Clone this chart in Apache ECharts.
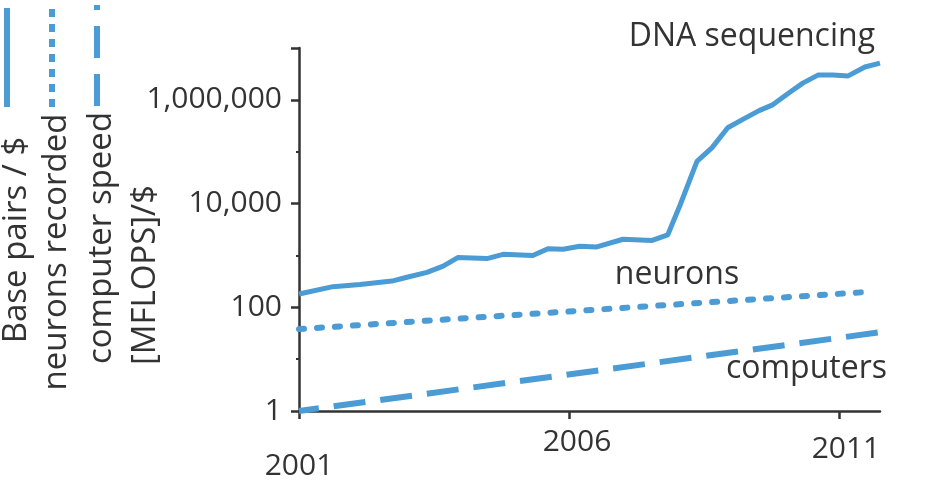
<!DOCTYPE html>
<html>
<head>
<meta charset="utf-8">
<script src="https://cdn.jsdelivr.net/npm/echarts@6/dist/echarts.min.js"></script>
<style>
  html, body { margin: 0; padding: 0; background: #fff; }
  #chart { width: 929px; height: 481px; }
</style>
</head>
<body>
<div id="chart"></div>
<script>
// ---- data ----
const dnaYears = [2001.0, 2001.63, 2002.13, 2002.72, 2003.0, 2003.37, 2003.67, 2003.94, 2004.48, 2004.78,
  2005.33, 2005.61, 2005.89, 2006.2, 2006.5, 2007.0, 2007.54, 2007.83, 2008.06, 2008.37,
  2008.65, 2008.94, 2009.22, 2009.52, 2009.76, 2010.09, 2010.33, 2010.61, 2010.89, 2011.17,
  2011.48, 2011.76];
const dnaValues = [180, 250, 275, 320, 380, 470, 620, 910, 870, 1050,
  1000, 1350, 1320, 1500, 1450, 2050, 1950, 2500, 9500, 65000,
  120000, 290000, 420000, 620000, 790000, 1400000, 2100000, 3000000, 3000000, 2900000,
  4300000, 5100000];
const neuronYears = [2001.0, 2011.44];
const neuronValues = [38, 195];
const computerYears = [2001.0, 2011.94];
const computerValues = [1, 35];

const xTickValues = [2001, 2006, 2011];
const xTickLabels = ["2001", "2006", "2011"];
const yTickValues = [1, 100, 10000, 1000000];
const yTickLabels = ["1", "100", "10,000", "1,000,000"];

const BLUE = "#4b9bd5";
const INK = "#333333";
const FONT = '"Open Sans", "Noto Sans", sans-serif';

const pairs = (xs, ys) => xs.map((x, i) => [x, ys[i]]);

// the year labels are staggered in the original: one label-only axis per year,
// a blank spacer token nudges a label to the right
const yearMargin = [40, 16, 23];
const yearSpacer = [0, 16, 14];

const baseX = {
  type: "value",
  min: 2001,
  max: 2011.76,
  position: "bottom",
  splitLine: { show: false },
};

const xAxes = xTickValues.map((v, i) => ({
  ...baseX,
  axisLine: { show: i === 0, lineStyle: { color: INK, width: 2.5 } },
  axisTick: { show: i === 0, customValues: xTickValues, length: 8, lineStyle: { color: INK, width: 2.5 } },
  axisLabel: {
    customValues: [v],
    margin: yearMargin[i],
    color: INK,
    fontSize: 30,
    lineHeight: 30,
    fontFamily: FONT,
    formatter: () => (yearSpacer[i] ? "{sp| }" : "") + "{y|" + xTickLabels[i] + "}",
    rich: {
      sp: { width: yearSpacer[i], fontSize: 30, lineHeight: 30 },
      y: { fontSize: 30, lineHeight: 30, color: INK, fontFamily: FONT },
    },
  },
}));

const chart = echarts.init(document.getElementById("chart"), null, { renderer: "canvas" });

chart.setOption({
  animation: false,
  grid: { left: 299, right: 49, top: 48, bottom: 69 },
  xAxis: xAxes,
  yAxis: [
    {
      type: "log",
      logBase: 10,
      min: 1,
      max: 1e7,
      splitLine: { show: false },
      axisLine: { show: true, lineStyle: { color: INK, width: 2.5 } },
      axisTick: { show: true, customValues: [1, 100, 10000, 1000000, 10000000], length: 8, lineStyle: { color: INK, width: 2.5 } },
      axisLabel: {
        customValues: yTickValues,
        margin: 17,
        color: INK,
        fontSize: 30,
        fontFamily: FONT,
        formatter: (v) => {
          const i = yTickValues.findIndex((t) => Math.abs(t - v) / t < 1e-6);
          return i < 0 ? "" : yTickLabels[i];
        },
      },
    },
    {
      type: "log",
      logBase: 10,
      min: 1,
      max: 1e7,
      position: "left",
      splitLine: { show: false },
      axisLine: { show: false },
      axisTick: { show: true, customValues: [10, 1000, 100000], length: 3, lineStyle: { color: INK, width: 2 } },
      axisLabel: { show: false },
    },
  ],
  series: [
    {
      name: "DNA sequencing",
      type: "line",
      data: pairs(dnaYears, dnaValues),
      showSymbol: false,
      lineStyle: { color: BLUE, width: 5, join: "round" },
    },
    {
      name: "neurons",
      type: "line",
      data: pairs(neuronYears, neuronValues),
      showSymbol: false,
      lineStyle: { color: BLUE, width: 6, type: [5, 13], cap: "round" },
    },
    {
      name: "computers",
      type: "line",
      data: pairs(computerYears, computerValues),
      showSymbol: false,
      clip: false,
      lineStyle: { color: BLUE, width: 6, type: [32, 15], dashOffset: 12 },
    },
  ],
  graphic: [
    // series names placed beside the lines
    { type: "text", x: 875, y: 37, style: { text: "DNA sequencing", fill: INK, font: "32px " + FONT, align: "right", verticalAlign: "middle" } },
    { type: "text", x: 677, y: 275, style: { text: "neurons", fill: INK, font: "32px " + FONT, align: "center", verticalAlign: "middle" } },
    { type: "text", x: 887, y: 369, style: { text: "computers", fill: INK, font: "32px " + FONT, align: "right", verticalAlign: "middle" } },

    // rotated key on the left
    { type: "line", shape: { x1: 7, y1: 107, x2: 7, y2: 8 }, style: { stroke: BLUE, lineWidth: 6 } },
    { type: "line", shape: { x1: 52, y1: 107, x2: 52, y2: 6 }, style: { stroke: BLUE, lineWidth: 6, lineDash: [8, 7] } },
    { type: "line", shape: { x1: 97, y1: 106, x2: 97, y2: 5 }, style: { stroke: BLUE, lineWidth: 6, lineDash: [32, 16] } },

    { type: "text", x: 17, y: 240, rotation: Math.PI / 2, style: { text: "Base pairs / $", fill: INK, font: "33px " + FONT, align: "center", verticalAlign: "middle" } },
    { type: "text", x: 57, y: 252, rotation: Math.PI / 2, style: { text: "neurons recorded", fill: INK, font: "33px " + FONT, align: "center", verticalAlign: "middle" } },
    { type: "text", x: 102, y: 238, rotation: Math.PI / 2, style: { text: "computer speed", fill: INK, font: "33px " + FONT, align: "center", verticalAlign: "middle" } },
    { type: "text", x: 146, y: 275, rotation: Math.PI / 2, style: { text: "[MFLOPS]/$", fill: INK, font: "33px " + FONT, align: "center", verticalAlign: "middle" } },
  ],
});
</script>
</body>
</html>
